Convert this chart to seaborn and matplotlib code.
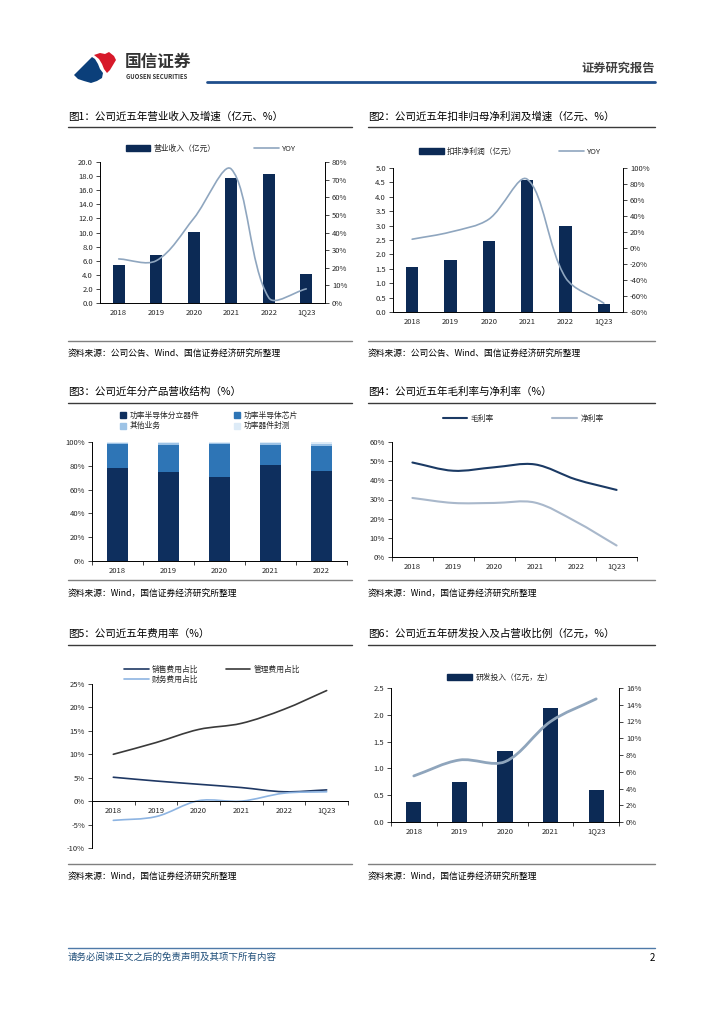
import numpy as np
import pandas as pd
import seaborn as sns
import matplotlib.pyplot as plt
from matplotlib.path import Path
from matplotlib.patches import PathPatch, Patch, Polygon
from matplotlib.lines import Line2D
from matplotlib.ticker import FixedLocator, FuncFormatter

# ---- data ----
years6 = ["2018", "2019", "2020", "2021", "2022", "1Q23"]
years5 = ["2018", "2019", "2020", "2021", "2022"]
years_rd = ["2018", "2019", "2020", "2021", "1Q23"]

revenue = [5.4, 6.8, 10.1, 17.8, 18.3, 4.1]
revenue_yoy = [25, 24, 48, 76, 3, 8]

np_deducted = [1.55, 1.82, 2.47, 4.58, 3.0, 0.27]
np_yoy = [11, 20, 36, 86, -37, -69]

mix_discrete = [78, 74.5, 70.5, 80.5, 76]
mix_chip = [20.5, 23, 27.5, 17, 21]
mix_other = [0.8, 1.3, 1.2, 1.5, 1.5]
mix_pack = [0.7, 1.2, 0.8, 1.0, 1.5]

gross_margin = [49.3, 45, 46.8, 48.3, 40.5, 35]
net_margin = [30.8, 28.2, 28.2, 28.4, 18.5, 6]

sell_ratio = [5.1, 4.3, 3.6, 2.9, 2.0, 2.4]
admin_ratio = [10.0, 12.5, 15.3, 16.6, 19.6, 23.6]
fin_ratio = [-4.1, -3.3, 0.1, 0.0, 1.7, 2.0]

rd_spend = [0.37, 0.75, 1.32, 2.13, 0.59]
rd_ratio = [5.5, 7.4, 7.2, 12.0, 14.7]

# ---- style ----
sns.set_style("white")
plt.rcParams["font.family"] = ["Noto Sans CJK SC", "DejaVu Sans"]
plt.rcParams["axes.unicode_minus"] = False

NAVY = "#0C2A55"
YOY = "#8FA6BF"
W, H = 724, 1024
TICK = 5.5
LEG = 5.6

fig = plt.figure(figsize=(W / 100, H / 100), dpi=100)


def fx(x):
    return x / W


def fy(y):
    return 1 - y / H


def add_ax(l, t, r, b):
    return fig.add_axes([fx(l), fy(b), (r - l) / W, (b - t) / H])


def hline(x1, x2, y, color, lw):
    fig.add_artist(Line2D([fx(x1), fx(x2)], [fy(y), fy(y)], color=color, lw=lw,
                          transform=fig.transFigure))


def smooth_line(ax, ys, color, lw, k=1 / 3):
    # excel-like smoothed curve: tangents scaled by neighbouring segment lengths on screen
    data = np.column_stack([np.arange(len(ys)), np.asarray(ys, float)])
    p = ax.transData.transform(data)
    n = len(p)
    outs, ins = [], []
    for i in range(n):
        if i == 0:
            outs.append(p[0] + (p[1] - p[0]) * k)
            ins.append(p[0])
        elif i == n - 1:
            outs.append(p[i])
            ins.append(p[i] - (p[i] - p[i - 1]) * k)
        else:
            t = p[i + 1] - p[i - 1]
            dp = np.hypot(*(p[i] - p[i - 1]))
            dn = np.hypot(*(p[i + 1] - p[i]))
            outs.append(p[i] + t * k * dn / (dp + dn))
            ins.append(p[i] - t * k * dp / (dp + dn))
    verts, codes = [p[0]], [Path.MOVETO]
    for i in range(n - 1):
        verts += [outs[i], ins[i + 1], p[i + 1]]
        codes += [Path.CURVE4] * 3
    verts = ax.transData.inverted().transform(np.array(verts))
    ax.add_patch(PathPatch(Path(verts, codes), fill=False, edgecolor=color, lw=lw,
                           capstyle="round", joinstyle="round"))


def style_axes(ax, ncat, ylim, yticks, fmt, boundary_ticks=True):
    ax.set_xlim(-0.5, ncat - 0.5)
    ax.set_ylim(*ylim)
    ax.yaxis.set_major_locator(FixedLocator(yticks))
    ax.yaxis.set_major_formatter(FuncFormatter(fmt))
    for s in ["top", "right"]:
        ax.spines[s].set_visible(False)
    for s in ["left", "bottom"]:
        ax.spines[s].set_color("black")
        ax.spines[s].set_linewidth(0.7)
    ax.set_xlabel("")
    ax.set_ylabel("")
    ax.tick_params(axis="y", direction="out", length=3, width=0.6, labelsize=TICK, pad=2,
                   left=True)
    ax.tick_params(axis="x", which="major", length=0, labelsize=TICK, pad=4, bottom=True)
    if boundary_ticks:
        ax.xaxis.set_minor_locator(FixedLocator(np.arange(ncat + 1) - 0.5))
        ax.tick_params(axis="x", which="minor", direction="out", length=3, width=0.6,
                       bottom=True)
    ax.grid(False)


def style_right(axr, ncat, ylim, yticks, fmt):
    axr.set_xlim(-0.5, ncat - 0.5)
    axr.set_ylim(*ylim)
    axr.yaxis.set_major_locator(FixedLocator(yticks))
    axr.yaxis.set_major_formatter(FuncFormatter(fmt))
    for s in ["top", "left", "bottom"]:
        axr.spines[s].set_visible(False)
    axr.spines["right"].set_color("black")
    axr.spines["right"].set_linewidth(0.7)
    axr.tick_params(axis="y", direction="out", length=3, width=0.6, labelsize=TICK, pad=2,
                    right=True)
    axr.grid(False)


def legend(ax, handles, labels, cx, cy, ncol, hl=3.2, cs=5.0):
    ax.legend(handles, labels, loc="center", bbox_to_anchor=(fx(cx), fy(cy)),
              bbox_transform=fig.transFigure, ncol=ncol, frameon=False, fontsize=LEG,
              handlelength=hl, handleheight=0.8, handletextpad=0.4, columnspacing=cs,
              labelspacing=0.3, borderpad=0)


def panel_text(x0, x1, ty, uy, title, sy_line, sy_text, source):
    fig.text(fx(x0), fy(ty), title, fontsize=7.6, va="center", ha="left", color="black")
    hline(x0, x1, uy, "#3a3a3a", 1.0)
    hline(x0, x1, sy_line, "#7f7f7f", 1.0)
    fig.text(fx(x0), fy(sy_text), source, fontsize=6.3, va="center", ha="left", color="black")


pct0 = lambda v, p: f"{v:.0f}%"
dec1 = lambda v, p: f"{v:.1f}"

# ---- header ----
red_logo = [(94, 55), (100, 53), (105, 54), (109, 52), (114, 56), (116, 60), (113, 65),
            (110, 70), (107, 73), (104, 69), (102, 64), (99, 59)]
navy_logo = [(74, 75), (81, 68), (87, 62), (92, 57), (95, 59), (98, 64), (100, 69),
             (103, 73), (102, 78), (97, 81), (91, 83), (84, 81), (78, 79)]
fig.add_artist(Polygon([(fx(a), fy(b)) for a, b in red_logo], closed=True,
                       facecolor="#D7192A", edgecolor="none", transform=fig.transFigure))
fig.add_artist(Polygon([(fx(a), fy(b)) for a, b in navy_logo], closed=True,
                       facecolor="#0B3F7A", edgecolor="none", transform=fig.transFigure))
fig.text(fx(125), fy(62), "国信证券", fontsize=12, fontweight="bold", color="#333333",
         va="center", ha="left")
fig.text(fx(126), fy(76.5), "GUOSEN SECURITIES", fontsize=4.3, fontweight="bold",
         color="#333333", va="center", ha="left")
fig.text(fx(655), fy(68), "证券研究报告", fontsize=8.8, fontweight="bold", color="#404040",
         va="center", ha="right")
hline(207, 655, 82, "#1F4E8C", 2.0)

# ---- chart 1 ----
panel_text(68, 352, 117, 127, "图1：公司近五年营业收入及增速（亿元、%）", 341, 353,
           "资料来源：公司公告、Wind、国信证券经济研究所整理")
ax1 = add_ax(100, 162, 325, 303)
sns.barplot(x=years6, y=revenue, color=NAVY, saturation=1, width=0.33, linewidth=0, ax=ax1)
style_axes(ax1, 6, (0, 20), np.arange(0, 20.1, 2), dec1, boundary_ticks=False)
ax1r = ax1.twinx()
style_right(ax1r, 6, (0, 80), np.arange(0, 81, 10), pct0)
smooth_line(ax1r, revenue_yoy, YOY, 1.2)
legend(ax1, [Patch(color=NAVY), Line2D([], [], color=YOY, lw=1.2)],
       ["营业收入（亿元）", "YOY"], 211, 149, 2, cs=5.0)

# ---- chart 2 ----
panel_text(368, 655, 117, 127, "图2：公司近五年扣非归母净利润及增速（亿元、%）", 341, 353,
           "资料来源：公司公告、Wind、国信证券经济研究所整理")
ax2 = add_ax(393, 168, 623, 312)
sns.barplot(x=years6, y=np_deducted, color=NAVY, saturation=1, width=0.33, linewidth=0, ax=ax2)
style_axes(ax2, 6, (0, 5), np.arange(0, 5.01, 0.5), dec1, boundary_ticks=False)
ax2r = ax2.twinx()
style_right(ax2r, 6, (-80, 100), np.arange(-80, 101, 20), pct0)
smooth_line(ax2r, np_yoy, YOY, 1.2)
legend(ax2, [Patch(color=NAVY), Line2D([], [], color=YOY, lw=1.2)],
       ["扣非净利润（亿元）", "YOY"], 510, 152, 2, cs=5.5)

# ---- chart 3 ----
panel_text(68, 352, 392, 403, "图3：公司近年分产品营收结构（%）", 580, 593,
           "资料来源：Wind，国信证券经济研究所整理")
ax3 = add_ax(92, 442, 347, 561)
mix = pd.DataFrame({"year": years5, "d": mix_discrete, "c": mix_chip,
                    "o": mix_other, "p": mix_pack})
layers = [("p", "#DDEBF7"), ("o", "#9DC3E6"), ("c", "#2E75B6"), ("d", "#0E2F5E")]
cum = mix[["d", "c", "o", "p"]].cumsum(axis=1)
for key, col in layers:
    sns.barplot(x=mix["year"], y=cum[key], color=col, saturation=1, width=0.41,
                linewidth=0, ax=ax3)
style_axes(ax3, 5, (0, 100), np.arange(0, 101, 20), pct0)
h3 = [Patch(color="#0E2F5E"), Patch(color="#9DC3E6"), Patch(color="#2E75B6"),
      Patch(color="#DDEBF7")]
legend(ax3, h3, ["功率半导体分立器件", "其他业务", "功率半导体芯片", "功率器件封测"],
       209, 421, 2, hl=0.8, cs=4.5)

# ---- chart 4 ----
panel_text(368, 655, 392, 403, "图4：公司近五年毛利率与净利率（%）", 580, 593,
           "资料来源：Wind，国信证券经济研究所整理")
ax4 = add_ax(392, 442, 637, 557)
style_axes(ax4, 6, (0, 60), np.arange(0, 61, 10), pct0)
ax4.set_xticks(range(6))
ax4.set_xticklabels(years6)
smooth_line(ax4, gross_margin, "#1B3A64", 1.5)
smooth_line(ax4, net_margin, "#A9B8CB", 1.5)
legend(ax4, [Line2D([], [], color="#1B3A64", lw=1.5), Line2D([], [], color="#A9B8CB", lw=1.5)],
       ["毛利率", "净利率"], 523, 419, 2, cs=7.5)

# ---- chart 5 ----
panel_text(68, 352, 634, 645, "图5：公司近五年费用率（%）", 864, 876,
           "资料来源：Wind，国信证券经济研究所整理")
ax5 = add_ax(92, 684, 348, 848)
style_axes(ax5, 6, (-10, 25), np.arange(-10, 26, 5), pct0)
ax5.spines["bottom"].set_position(("data", 0))
ax5.set_xticks(range(6))
ax5.set_xticklabels(years6)
smooth_line(ax5, sell_ratio, "#1F3864", 1.2)
smooth_line(ax5, admin_ratio, "#3A3A3A", 1.2)
smooth_line(ax5, fin_ratio, "#8DB4E2", 1.2)
legend(ax5, [Line2D([], [], color="#1F3864", lw=1.2), Line2D([], [], color="#8DB4E2", lw=1.2),
             Line2D([], [], color="#3A3A3A", lw=1.2)],
       ["销售费用占比", "财务费用占比", "管理费用占比"], 212, 675, 2, cs=3.5)

# ---- chart 6 ----
panel_text(368, 655, 634, 645, "图6：公司近五年研发投入及占营收比例（亿元，%）", 864, 876,
           "资料来源：Wind，国信证券经济研究所整理")
ax6 = add_ax(391, 688, 619, 822)
sns.barplot(x=years_rd, y=rd_spend, color=NAVY, saturation=1, width=0.33, linewidth=0, ax=ax6)
style_axes(ax6, 5, (0, 2.5), np.arange(0, 2.51, 0.5), dec1)
ax6r = ax6.twinx()
style_right(ax6r, 5, (0, 16), np.arange(0, 17, 2), pct0)
smooth_line(ax6r, rd_ratio, "#8FA5BC", 2.0)
legend(ax6, [Patch(color=NAVY)], ["研发投入（亿元，左）"], 500, 678, 1)

# ---- footer ----
hline(68, 655, 948, "#4F7AA8", 1.0)
fig.text(fx(68), fy(957), "请务必阅读正文之后的免责声明及其项下所有内容", fontsize=6.8,
         style="italic", color="#1F4E79", va="center", ha="left")
fig.text(fx(655), fy(958), "2", fontsize=7, color="black", va="center", ha="right")

fig.savefig("out.png", dpi=100)
